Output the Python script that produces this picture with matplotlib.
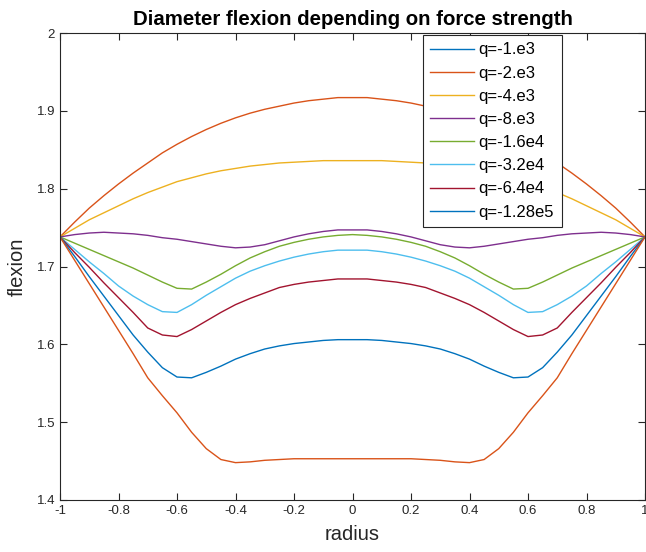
import numpy as np
import matplotlib.pyplot as plt

plt.rcParams['font.family'] = ['Liberation Sans', 'DejaVu Sans']
plt.rcParams['axes.unicode_minus'] = False

# sample positions along the diameter
radius = [-1.00, -0.95, -0.90, -0.85, -0.80, -0.75, -0.70, -0.65, -0.60, -0.55, -0.50,
          -0.45, -0.40, -0.35, -0.30, -0.25, -0.20, -0.15, -0.10, -0.05, 0.00,
          0.05, 0.10, 0.15, 0.20, 0.25, 0.30, 0.35, 0.40, 0.45, 0.50,
          0.55, 0.60, 0.65, 0.70, 0.75, 0.80, 0.85, 0.90, 0.95, 1.00]

# q=-1.e3 is not visible inside the plotted range
q_1e3 = []
q_2e3 = [1.738, 1.757, 1.775, 1.791, 1.806, 1.820, 1.833, 1.846, 1.857, 1.867, 1.876,
         1.884, 1.891, 1.897, 1.902, 1.906, 1.910, 1.913, 1.915, 1.917, 1.917,
         1.917, 1.915, 1.913, 1.910, 1.906, 1.902, 1.897, 1.891, 1.884, 1.876,
         1.867, 1.857, 1.846, 1.833, 1.820, 1.806, 1.791, 1.775, 1.757, 1.738]
q_4e3 = [1.738, 1.749, 1.760, 1.769, 1.778, 1.787, 1.795, 1.802, 1.809, 1.814, 1.819,
         1.823, 1.826, 1.829, 1.831, 1.833, 1.834, 1.835, 1.836, 1.836, 1.836,
         1.836, 1.836, 1.835, 1.834, 1.833, 1.831, 1.829, 1.826, 1.823, 1.819,
         1.814, 1.809, 1.802, 1.795, 1.787, 1.778, 1.769, 1.760, 1.749, 1.738]
q_8e3 = [1.738, 1.741, 1.743, 1.744, 1.743, 1.742, 1.740, 1.737, 1.735, 1.732, 1.729,
         1.726, 1.724, 1.725, 1.728, 1.733, 1.738, 1.742, 1.745, 1.747, 1.747,
         1.747, 1.745, 1.742, 1.738, 1.733, 1.728, 1.725, 1.724, 1.726, 1.729,
         1.732, 1.735, 1.737, 1.740, 1.742, 1.743, 1.744, 1.743, 1.741, 1.738]
q_16e3 = [1.738, 1.730, 1.722, 1.714, 1.706, 1.698, 1.689, 1.680, 1.672, 1.671, 1.680,
          1.690, 1.701, 1.711, 1.719, 1.726, 1.731, 1.735, 1.738, 1.740, 1.741,
          1.740, 1.738, 1.735, 1.731, 1.726, 1.719, 1.711, 1.701, 1.690, 1.680,
          1.671, 1.672, 1.680, 1.689, 1.698, 1.706, 1.714, 1.722, 1.730, 1.738]
q_32e3 = [1.738, 1.722, 1.706, 1.691, 1.675, 1.662, 1.651, 1.642, 1.641, 1.651, 1.663,
          1.674, 1.685, 1.694, 1.701, 1.707, 1.712, 1.716, 1.719, 1.721, 1.721,
          1.721, 1.719, 1.716, 1.712, 1.707, 1.701, 1.694, 1.685, 1.674, 1.663,
          1.651, 1.641, 1.642, 1.651, 1.662, 1.675, 1.691, 1.706, 1.722, 1.738]
q_64e3 = [1.738, 1.718, 1.699, 1.679, 1.660, 1.641, 1.621, 1.612, 1.610, 1.619, 1.630,
          1.641, 1.651, 1.659, 1.666, 1.673, 1.677, 1.680, 1.682, 1.684, 1.684,
          1.684, 1.682, 1.680, 1.677, 1.673, 1.666, 1.659, 1.651, 1.641, 1.630,
          1.619, 1.610, 1.612, 1.621, 1.641, 1.660, 1.679, 1.699, 1.718, 1.738]
q_128e3 = [1.738, 1.713, 1.687, 1.662, 1.637, 1.612, 1.590, 1.570, 1.558, 1.557, 1.564,
           1.572, 1.581, 1.588, 1.594, 1.598, 1.601, 1.603, 1.605, 1.606, 1.606,
           1.606, 1.605, 1.603, 1.601, 1.598, 1.594, 1.588, 1.581, 1.572, 1.564,
           1.557, 1.558, 1.570, 1.590, 1.612, 1.637, 1.662, 1.687, 1.713, 1.738]
# extra curve drawn without a legend entry
q_256e3 = [1.738, 1.708, 1.678, 1.648, 1.618, 1.588, 1.557, 1.534, 1.512, 1.487, 1.466,
           1.452, 1.448, 1.449, 1.451, 1.452, 1.453, 1.453, 1.453, 1.453, 1.453,
           1.453, 1.453, 1.453, 1.453, 1.452, 1.451, 1.449, 1.448, 1.452, 1.466,
           1.487, 1.512, 1.534, 1.557, 1.588, 1.618, 1.648, 1.678, 1.708, 1.738]

series = [q_1e3, q_2e3, q_4e3, q_8e3, q_16e3, q_32e3, q_64e3, q_128e3, q_256e3]
labels = ['q=-1.e3', 'q=-2.e3', 'q=-4.e3', 'q=-8.e3', 'q=-1.6e4', 'q=-3.2e4',
          'q=-6.4e4', 'q=-1.28e5']

colors = [(0, 0.447, 0.741), (0.850, 0.325, 0.098), (0.929, 0.694, 0.125),
          (0.494, 0.184, 0.556), (0.466, 0.674, 0.188), (0.301, 0.745, 0.933),
          (0.635, 0.078, 0.184)]

fig = plt.figure(figsize=(6.46, 5.52), dpi=100)
ax = fig.add_axes([60/646, 52/552, 585/646, 467/552])

lines = []
for i, s in enumerate(series):
    c = colors[i % len(colors)]
    if len(s) == 0:
        l, = ax.plot([], [], color=c, lw=1.0)
    else:
        l, = ax.plot(radius, s, color=c, lw=1.0)
    lines.append(l)

ax.set_xlim(-1, 1)
ax.set_ylim(1.4, 2)
xt = [-1, -0.8, -0.6, -0.4, -0.2, 0, 0.2, 0.4, 0.6, 0.8, 1]
ax.set_xticks(xt)
ax.set_xticklabels(['-1', '-0.8', '-0.6', '-0.4', '-0.2', '0', '0.2', '0.4', '0.6', '0.8', '1'])
yt = [1.4, 1.5, 1.6, 1.7, 1.8, 1.9, 2]
ax.set_yticks(yt)
ax.set_yticklabels(['1.4', '1.5', '1.6', '1.7', '1.8', '1.9', '2'])

dark = (0.15, 0.15, 0.15)
ax.tick_params(direction='in', top=True, right=True, length=5, width=0.8,
               color=dark, labelcolor=dark, labelsize=9.5)
for sp in ax.spines.values():
    sp.set_color(dark)
    sp.set_linewidth(0.8)

ax.set_title('Diameter flexion depending on force strength', fontsize=14.7,
             fontweight='bold', pad=6)
ax.set_xlabel('radius', fontsize=14.5, color=dark, labelpad=6)
ax.set_ylabel('flexion', fontsize=14.5, color=dark, labelpad=7)

leg = ax.legend(lines[:8], labels, loc='upper left', bbox_to_anchor=(0.62, 0.996),
                fontsize=12, frameon=True, fancybox=False, framealpha=1,
                edgecolor=dark, handlelength=2.6, handletextpad=0.3,
                labelspacing=0.49, borderpad=0.45, borderaxespad=0)
leg.get_frame().set_linewidth(0.8)

fig.savefig('out.png', dpi=100)
